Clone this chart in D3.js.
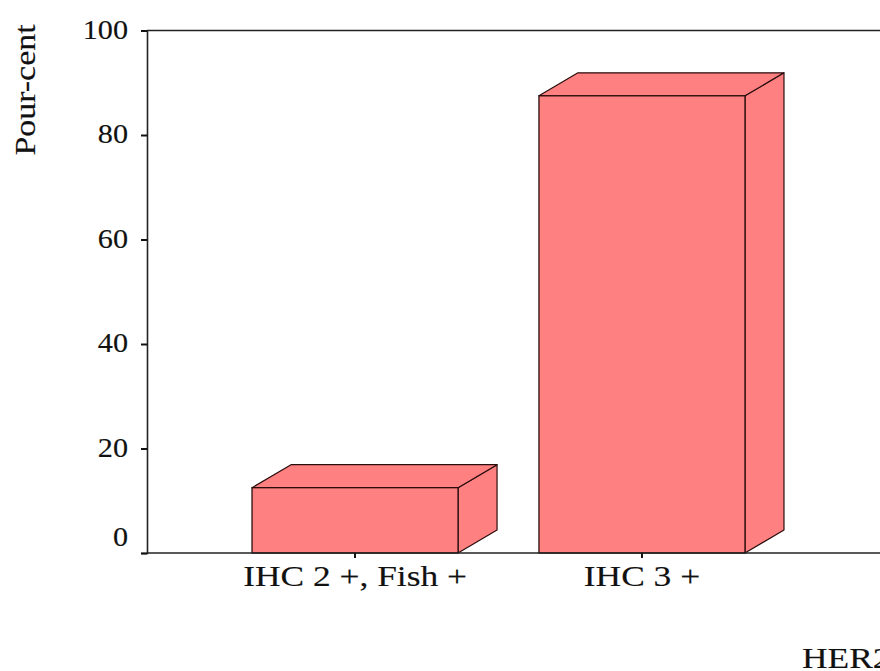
<!DOCTYPE html>
<html>
<head>
<meta charset="utf-8">
<script src="https://cdn.jsdelivr.net/npm/d3@7"></script>
<style>
  html, body { margin: 0; padding: 0; background: #fff; overflow: hidden; }
  svg { display: block; }
  text { font-family: "Liberation Serif", "Times New Roman", serif; fill: #111; stroke: #111; stroke-width: 0.15px; }
</style>
</head>
<body>
<svg id="chart" width="880" height="671"></svg>
<script>
// HER2 status share (percent)
const categories = ["IHC 2 +, Fish +", "IHC 3 +"];
const percents = [12.5, 87.5];
const yTicks = [0, 20, 40, 60, 80, 100];
const yTitle = "Pour-cent";
const xTitle = "HER2";

const svg = d3.select("#chart");

const plotLeft = 147, plotBottom = 553, plotTop = 30.5, axisRight = 880;
const depthX = 39, depthY = -23;   // oblique offset of the 3D box faces
const fill = "#ff8080", edge = "#2a0d0d";
const stretch = 1.18;              // wide serif lettering

const x = d3.scaleBand()
  .domain(categories)
  .range([plotLeft, 850])
  .paddingInner(0.282)
  .paddingOuter(0.366);

const y = d3.scaleLinear().domain([0, 100]).range([plotBottom, plotTop]);

// frame line at the top of the value range
svg.append("line")
  .attr("x1", plotLeft).attr("x2", axisRight)
  .attr("y1", y(100)).attr("y2", y(100))
  .attr("stroke", "#222").attr("stroke-width", 1.4);

// 3D bars
const bars = svg.append("g").selectAll("g")
  .data(categories.map((c, i) => ({ c, v: percents[i] })))
  .join("g");

bars.each(function(d) {
  const g = d3.select(this);
  const x0 = x(d.c), x1 = x(d.c) + x.bandwidth();
  const y0 = y(0), y1 = y(d.v);
  // right side face
  g.append("path")
    .attr("d", `M${x1},${y0} L${x1 + depthX},${y0 + depthY} L${x1 + depthX},${y1 + depthY} L${x1},${y1} Z`)
    .attr("fill", fill).attr("stroke", edge).attr("stroke-width", 1.2).attr("stroke-linejoin", "round");
  // top face
  g.append("path")
    .attr("d", `M${x0},${y1} L${x0 + depthX},${y1 + depthY} L${x1 + depthX},${y1 + depthY} L${x1},${y1} Z`)
    .attr("fill", fill).attr("stroke", edge).attr("stroke-width", 1.2).attr("stroke-linejoin", "round");
  // front face
  g.append("rect")
    .attr("x", x0).attr("y", y1)
    .attr("width", x1 - x0).attr("height", y0 - y1)
    .attr("fill", fill).attr("stroke", edge).attr("stroke-width", 1.3);
});

// value axis
const yAxis = svg.append("g")
  .attr("transform", `translate(${plotLeft},0)`)
  .call(d3.axisLeft(y).tickValues(yTicks).tickSize(6).tickPadding(0).tickFormat(d3.format("d")));
yAxis.select(".domain").attr("stroke", "#222").attr("stroke-width", 1.6);
yAxis.selectAll(".tick line").attr("stroke", "#111").attr("stroke-width", 2);
yAxis.selectAll(".tick text")
  .attr("x", null).attr("dy", null)
  .attr("font-size", 27)
  .attr("text-anchor", "end")
  .attr("dominant-baseline", "central")
  .attr("transform", d => `translate(-19,${d === 0 ? -17 : -1.5}) scale(1.12,1)`);

// category axis
svg.append("line")
  .attr("x1", plotLeft).attr("x2", axisRight)
  .attr("y1", plotBottom).attr("y2", plotBottom)
  .attr("stroke", "#222").attr("stroke-width", 1.6);

const xAxis = svg.append("g")
  .attr("transform", `translate(0,${plotBottom})`)
  .call(d3.axisBottom(x).tickSize(5).tickPadding(0));
xAxis.select(".domain").remove();
xAxis.selectAll(".tick line").attr("stroke", "#111").attr("stroke-width", 2);
xAxis.selectAll(".tick text")
  .attr("y", null).attr("dy", null)
  .attr("font-size", 30)
  .attr("text-anchor", "middle")
  .attr("transform", `translate(0,33) scale(${stretch},1)`);

// axis titles
svg.append("text")
  .attr("font-size", 29)
  .attr("text-anchor", "middle")
  .attr("dominant-baseline", "central")
  .attr("transform", `translate(25,90) rotate(-90) scale(1.17,1)`)
  .text(yTitle);

// the category-axis title sits at the far right, running past the edge
svg.append("text")
  .attr("font-size", 30)
  .attr("text-anchor", "start")
  .attr("transform", `translate(802,668) scale(${stretch},1)`)
  .text(xTitle);
</script>
</body>
</html>
